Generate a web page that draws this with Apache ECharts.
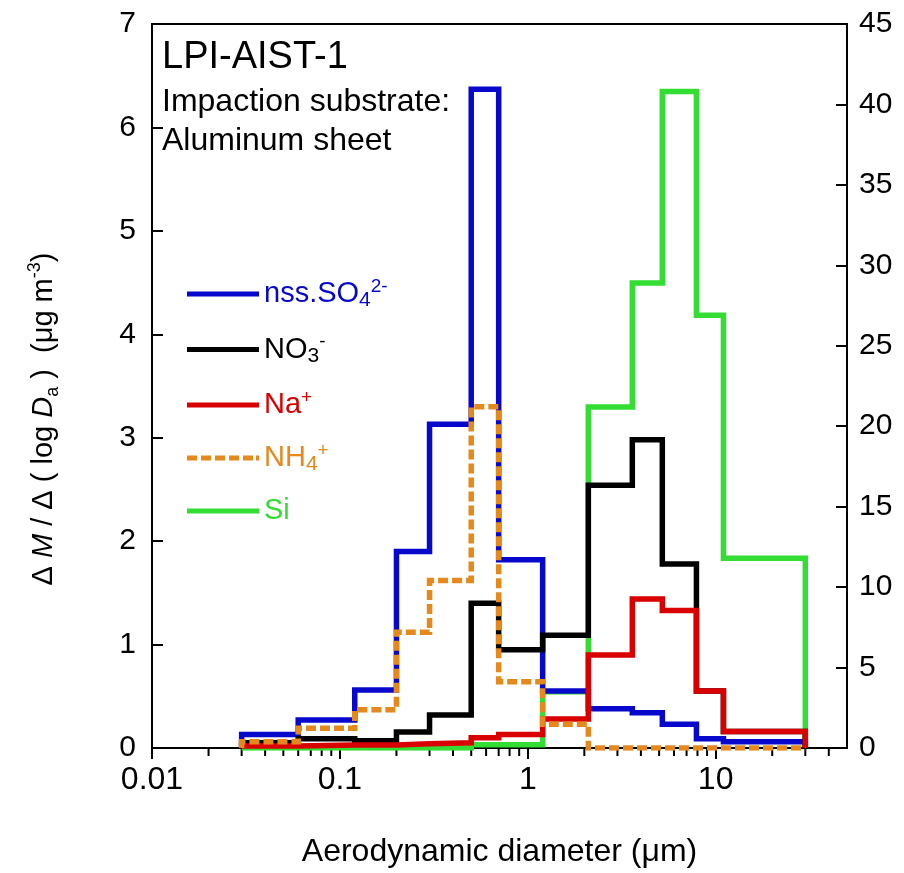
<!DOCTYPE html>
<html>
<head>
<meta charset="utf-8">
<script src="https://cdn.jsdelivr.net/npm/echarts@6/dist/echarts.min.js"></script>
<style>
  html, body { margin: 0; padding: 0; background: #fff; }
  #chart { width: 904px; height: 873px; }
</style>
</head>
<body>
<div id="chart"></div>
<script>
// bin edges of the impactor stages (um)
const edges = [0.03, 0.06, 0.12, 0.2, 0.3, 0.5, 0.7, 1.2, 2.1, 3.6, 5.2, 7.9, 11, 30];
// dM/dlogDa per stage (ug m-3), left axis
const so4 = [0.13, 0.27, 0.56, 1.90, 3.13, 6.37, 1.82, 0.55, 0.38, 0.34, 0.23, 0.09, 0.06];
const no3 = [0.05, 0.09, 0.07, 0.155, 0.32, 1.40, 0.95, 1.09, 2.54, 2.98, 1.78, 0.55, 0.16];
const na  = [0.02, 0.03, 0.03, 0.04, 0.05, 0.10, 0.13, 0.28, 0.90, 1.44, 1.33, 0.55, 0.16];
const nh4 = [0.06, 0.19, 0.37, 1.12, 1.62, 3.30, 0.64, 0.23, 0, 0, 0, 0, 0];
// Si on the right axis
const si  = [0, 0, 0, 0, 0, 0.2, 0.2, 3.5, 21.2, 28.9, 40.8, 26.9, 11.8];
// minor ticks of the log axis
const minorTicks = [0.02, 0.03, 0.04, 0.05, 0.06, 0.07, 0.08, 0.09,
  0.2, 0.3, 0.4, 0.5, 0.6, 0.7, 0.8, 0.9,
  2, 3, 4, 5, 6, 7, 8, 9, 20, 30, 40];

const FONT = "'Liberation Sans', Arial, sans-serif";
const C_BLUE = '#0808cc', C_BLACK = '#000000', C_RED = '#d80000', C_ORANGE = '#e5891c', C_GREEN = '#33dd33';

// legend icons: a solid bar and a dashed bar, 72 x 5
const ICON_SOLID = 'path://M0,0H72V5H0Z';
const ICON_DASH = 'path://M0,0H10V5H0Z M14,0H24V5H14Z M28,0H38V5H28Z M42,0H52V5H42Z M56,0H66V5H56Z M69,0H72V5H69Z';

// histogram outline: up at first edge, steps, down at last edge
function steps(vals) {
  const pts = [[edges[0], 0]];
  vals.forEach((v, i) => pts.push([edges[i], v]));
  pts.push([edges[edges.length - 1], vals[vals.length - 1]]);
  pts.push([edges[edges.length - 1], 0]);
  return pts;
}

function stepSeries(name, vals, color, axis, dashed) {
  return {
    name: name,
    type: 'line',
    step: 'end',
    yAxisIndex: axis,
    symbol: 'none',
    data: steps(vals),
    lineStyle: { color: color, width: 5.5, type: dashed ? [10, 4] : 'solid', cap: 'butt', join: 'miter' },
    itemStyle: { color: color, borderWidth: 0 },
    animation: false
  };
}

const legendText = {
  'nss.SO42-': '{b|nss.SO}{bs|4}{bp|2-}',
  'NO3-': '{k|NO}{ks|3}{kp|-}',
  'Na+': '{r|Na}{rp|+}',
  'NH4+': '{o|NH}{os|4}{op|+}',
  'Si': '{g|Si}'
};

function richSet(key, color) {
  const o = {};
  o[key] = { color: color, fontSize: 29, lineHeight: 34, fontFamily: FONT };
  o[key + 's'] = { color: color, fontSize: 21, verticalAlign: 'bottom', fontFamily: FONT };
  o[key + 'p'] = { color: color, fontSize: 19, verticalAlign: 'top', fontFamily: FONT };
  return o;
}

const chart = echarts.init(document.getElementById('chart'));
chart.setOption({
  backgroundColor: '#fff',
  animation: false,
  grid: { left: 152, right: 57, top: 24, bottom: 125, show: true, borderColor: '#000', borderWidth: 2 },
  legend: {
    orient: 'vertical',
    left: 182,
    top: 272,
    itemWidth: 72,
    itemHeight: 5,
    itemGap: 21.5,
    data: [
      { name: 'nss.SO42-', icon: ICON_SOLID },
      { name: 'NO3-', icon: ICON_SOLID },
      { name: 'Na+', icon: ICON_SOLID },
      { name: 'NH4+', icon: ICON_DASH },
      { name: 'Si', icon: ICON_SOLID }
    ],
    formatter: name => legendText[name],
    textStyle: {
      fontFamily: FONT,
      rich: Object.assign({}, richSet('b', C_BLUE), richSet('k', C_BLACK), richSet('r', C_RED),
        richSet('o', C_ORANGE), richSet('g', C_GREEN))
    },
    selectedMode: false
  },
  graphic: [
    { type: 'text', left: 162, top: 39, style: { text: 'LPI-AIST-1', font: '38px ' + FONT, fill: '#000' } },
    { type: 'text', left: 162, top: 86, style: { text: 'Impaction substrate:', font: '32px ' + FONT, fill: '#000' } },
    { type: 'text', left: 162, top: 125, style: { text: 'Aluminum sheet', font: '32px ' + FONT, fill: '#000' } }
  ],
  xAxis: {
    type: 'log',
    min: 0.01,
    max: 50,
    logBase: 10,
    name: 'Aerodynamic diameter (\u03bcm)',
    nameLocation: 'middle',
    nameGap: 88,
    nameTextStyle: { fontSize: 32, color: '#000', fontFamily: FONT },
    axisLine: { lineStyle: { color: '#000', width: 2 } },
    axisTick: { inside: false, length: 11, lineStyle: { color: '#000', width: 2 } },
    axisLabel: { fontSize: 32, color: '#000', fontFamily: FONT, margin: 16, showMaxLabel: false, showMinLabel: true },
    splitLine: { show: false }
  },
  yAxis: [
    {
      type: 'value',
      min: 0,
      max: 7,
      interval: 1,
      name: '\u0394 {i|M} / \u0394 ( log {i|D}{s|a} )  (\u03bcg m{p|-3})',
      nameLocation: 'middle',
      nameGap: 90,
      nameTextStyle: {
        fontSize: 29, color: '#000', fontFamily: FONT, lineHeight: 36,
        padding: [0, 66, 0, 0],
        rich: {
          i: { fontSize: 29, fontStyle: 'italic', fontFamily: FONT, color: '#000' },
          s: { fontSize: 18, verticalAlign: 'bottom', fontFamily: FONT, color: '#000' },
          p: { fontSize: 18, verticalAlign: 'top', fontFamily: FONT, color: '#000' }
        }
      },
      axisLine: { show: true, lineStyle: { color: '#000', width: 2 } },
      axisTick: { show: true, inside: true, length: 11, lineStyle: { color: '#000', width: 2 } },
      axisLabel: { fontSize: 30, color: '#000', fontFamily: FONT, margin: 16 },
      splitLine: { show: false }
    },
    {
      type: 'value',
      position: 'right',
      min: 0,
      max: 45,
      interval: 5,
      axisLine: { show: true, lineStyle: { color: '#000', width: 2 } },
      axisTick: { show: true, inside: true, length: 11, lineStyle: { color: '#000', width: 2 } },
      axisLabel: { fontSize: 30, color: '#000', fontFamily: FONT, margin: 12 },
      splitLine: { show: false }
    }
  ],
  series: [
    stepSeries('Si', si, C_GREEN, 1, false),
    stepSeries('nss.SO42-', so4, C_BLUE, 0, false),
    stepSeries('NO3-', no3, C_BLACK, 0, false),
    stepSeries('Na+', na, C_RED, 0, false),
    stepSeries('NH4+', nh4, C_ORANGE, 0, true),
    {
      type: 'custom',
      silent: true,
      clip: false,
      data: minorTicks.map(v => [v, 0]),
      renderItem: function (params, api) {
        const p = api.coord([api.value(0), 0]);
        return {
          type: 'line',
          shape: { x1: p[0], y1: p[1], x2: p[0], y2: p[1] + 8 },
          style: { stroke: '#000', lineWidth: 2 }
        };
      },
      z: 1
    }
  ]
});
</script>
</body>
</html>
